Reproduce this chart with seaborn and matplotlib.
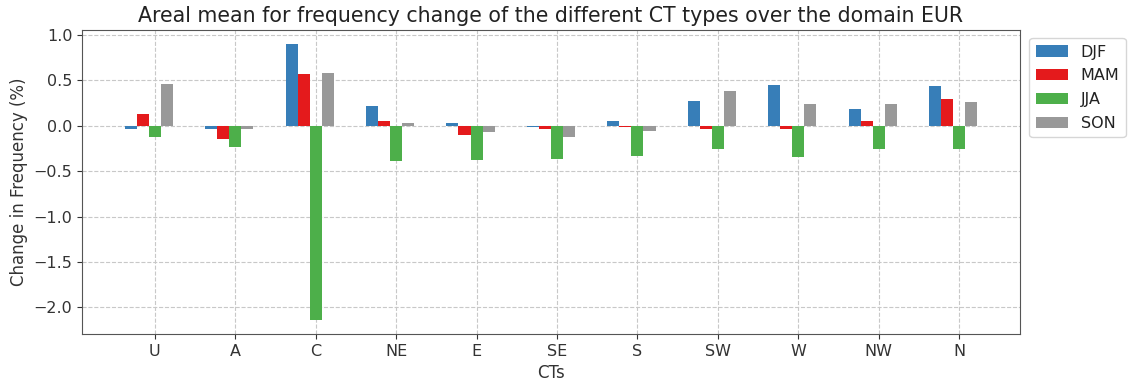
import numpy as np
import pandas as pd
import matplotlib
matplotlib.use("Agg")
import matplotlib.pyplot as plt
import seaborn as sns

# Circulation types (CTs) and the seasonal change in frequency (%)
cts = ["U", "A", "C", "NE", "E", "SE", "S", "SW", "W", "NW", "N"]
seasons = ["DJF", "MAM", "JJA", "SON"]
djf = [-0.04, -0.04, 0.90, 0.22, 0.03, -0.01, 0.05, 0.27, 0.45, 0.18, 0.44]
mam = [0.13, -0.14, 0.57, 0.05, -0.10, -0.03, -0.01, -0.04, -0.04, 0.05, 0.29]
jja = [-0.12, -0.23, -2.14, -0.39, -0.38, -0.36, -0.33, -0.25, -0.34, -0.25, -0.26]
son = [0.46, -0.04, 0.58, 0.03, -0.07, -0.12, -0.06, 0.38, 0.24, 0.24, 0.26]
values = {"DJF": djf, "MAM": mam, "JJA": jja, "SON": son}

set1 = sns.color_palette("Set1", 9)
colors = {"DJF": set1[1], "MAM": set1[0], "JJA": set1[2], "SON": set1[8]}

sns.set_style("ticks")
plt.rcParams["font.family"] = ["DejaVu Sans"]

fig = plt.figure(figsize=(11.3, 3.82), dpi=100)
ax = fig.add_axes([0.0726, 0.1257, 0.830, 0.795])

width = 0.15
base = np.arange(len(cts))
for i, s in enumerate(seasons):
    df = pd.DataFrame({"pos": base + (i - 2) * width, "val": values[s]})
    sns.barplot(data=df, x="pos", y="val", native_scale=True, width=width,
                color=colors[s], saturation=1, label=s, errorbar=None, ax=ax,
                linewidth=0, edgecolor="none")

ax.margins(x=0.05, y=0.05)
ax.set_xticks(base)
ax.set_xticklabels(cts)
ax.set_yticks([-2.0, -1.5, -1.0, -0.5, 0.0, 0.5, 1.0])
ax.tick_params(labelsize=11.5, colors="#333333")
ax.grid(True, linestyle="--", color="#c8c8c8", linewidth=0.8)
ax.set_axisbelow(True)
for sp in ax.spines.values():
    sp.set_visible(True)
    sp.set_color("#555555")

ax.set_xlabel("CTs", fontsize=12, color="#333333")
ax.set_ylabel("Change in Frequency (%)", fontsize=12, color="#333333")
ax.set_title("Areal mean for frequency change of the different CT types over the domain EUR",
             fontsize=14.8, color="#222222")
leg = ax.legend(loc="upper left", bbox_to_anchor=(1.005, 0.99), fontsize=11.5,
                frameon=True, borderpad=0.4, borderaxespad=0.3,
                handlelength=2.0, handletextpad=0.8, labelspacing=0.55)
for t in leg.get_texts():
    t.set_color("#222222")

fig.savefig("out.png", dpi=100)
